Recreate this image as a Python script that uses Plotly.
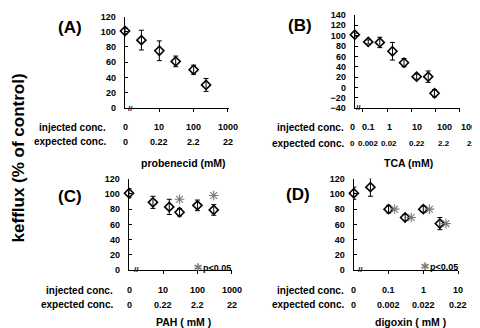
import math
import plotly.graph_objects as go

W, H = 480, 328

# ---------------- data ----------------
# control (0) is plotted at the "0" slot of each log axis
a_conc = [1, 3, 10, 30, 100, 230]
a_eff = [101, 89, 75, 61, 50, 30]
a_err = [4, 13, 13, 7, 6, 8.5]
a_tick_pos = [1, 10, 100, 1000]
a_inj = ["0", "10", "100", "1000"]
a_exp = ["0", "0.22", "2.2", "22"]

b_conc = [0.028, 0.1, 0.3, 1, 3, 10, 30, 55]
b_eff = [102, 88, 87, 70, 48, 21, 21, -11]
b_err = [3, 4, 10, 17, 8, 5, 11, 7]
b_inj = ["0", "0.1", "1", "10", "100", "1000"]
b_exp = ["0", "0.002", "0.02", "0.22", "2.2", "22"]
b_ticks = [0.06, 0.6, 6, 60, 600]

c_conc = [1, 5, 15, 30, 100, 300]
c_eff = [101, 89, 83, 76, 85, 79]
c_err = [6, 8, 10, 5, 7, 7]
c_sig = [False, False, False, True, False, True]
c_tick_pos = [1, 10, 100, 1000]
c_inj = ["0", "10", "100", "1000"]
c_exp = ["0", "0.22", "2.2", "22"]

d_conc = [0.01, 0.03, 0.1, 0.3, 1, 3]
d_eff = [101, 109, 80, 69, 80, 61]
d_err = [8, 12, 5, 4, 4, 8]
d_sig = [False, False, True, True, True, True]
d_tick_pos = [0.01, 0.1, 1, 10]
d_inj = ["0", "0.1", "1", "10"]
d_exp = ["0", "0.002", "0.022", "0.22"]

FONT = "Arial, Liberation Sans, sans-serif"
GRAY = "#7a7a7a"


def px(x):
    return x / W


def py(y):
    return 1 - y / H


fig = go.Figure()

panels = {
    # key: conc, eff, err, xdom(px), ydom(px), xrange(log), yrange, ticks
    "": (a_conc, a_eff, a_err, (116.7, 221), (3.7, 97.7), [-0.01, 3.03], [0, 120], [10, 100, 1000]),
    "2": (b_conc, b_eff, b_err, (346.7, 451.7), (2, 98.3), [-1.56, 2.778], [-40, 140], b_ticks),
    "3": (c_conc, c_eff, c_err, (120.7, 223.6), (171, 265), [-0.01, 3.0], [0, 120], [10, 100, 1000]),
    "4": (d_conc, d_eff, d_err, (345.5, 450), (171, 265), [-2.01, 1.0], [0, 120], [0.1, 1, 10]),
}

for key, (conc, eff, err, xd, yd, xr, yr, xt) in panels.items():
    xa = "x" + key
    ya = "y" + key
    fig.add_trace(go.Scatter(
        x=conc, y=eff, xaxis=xa, yaxis=ya, mode="markers", cliponaxis=False,
        marker=dict(symbol="diamond-open", size=7, color="black",
                    line=dict(width=1.6, color="black")),
        error_y=dict(type="data", array=err, color="black", thickness=1, width=2.5),
    ))
    fig.layout["xaxis" + key] = dict(
        type="log", domain=[px(xd[0]), px(xd[1])], range=xr, autorange=False, anchor=ya,
        showline=True, linecolor="black", linewidth=1, showgrid=False, zeroline=False,
        ticks="outside", ticklen=3, tickcolor="black", tickvals=xt, showticklabels=False,
    )
    fig.layout["yaxis" + key] = dict(
        domain=[py(yd[1]), py(yd[0])], range=yr, autorange=False, anchor=xa, dtick=20,
        showline=True, linecolor="black", linewidth=1, showgrid=False, zeroline=False,
        ticks="inside", ticklen=3, tickcolor="black", ticklabelstandoff=6,
        tickfont=dict(family=FONT, size=9, color="black", weight="bold"),
    )

# significance asterisks
c_sx = [c for c, s in zip(c_conc, c_sig) if s]
c_sy = [e + r + 12 for e, r, s in zip(c_eff, c_err, c_sig) if s]
fig.add_trace(go.Scatter(x=c_sx, y=c_sy, xaxis="x3", yaxis="y3", mode="markers", cliponaxis=False,
                         marker=dict(symbol="asterisk-open", size=8, color=GRAY,
                                     line=dict(width=1.1, color=GRAY))))
d_sx = [c * 1.5 for c, s in zip(d_conc, d_sig) if s]
d_sy = [e for e, s in zip(d_eff, d_sig) if s]
fig.add_trace(go.Scatter(x=d_sx, y=d_sy, xaxis="x4", yaxis="y4", mode="markers", cliponaxis=False,
                         marker=dict(symbol="asterisk-open", size=8, color=GRAY,
                                     line=dict(width=1.1, color=GRAY))))

ann = []


def text(x, y, t, size=10, bold=True, xanchor="center", **kw):
    ann.append(dict(x=x, y=y, text=t, showarrow=False, xanchor=xanchor, yanchor="middle",
                    font=dict(family=FONT, size=size, color="black",
                              weight="bold" if bold else "normal"), **kw))


def dom_frac(key, value):
    r0, r1 = panels[key][5]
    return (math.log10(value) - r0) / (r1 - r0)


# panel letters
text(px(62), py(15), "(A)", 17, xref="paper", yref="paper")
text(px(292), py(13), "(B)", 17, xref="paper", yref="paper")
text(px(62), py(189), "(C)", 17, xref="paper", yref="paper")
text(px(290), py(187), "(D)", 17, xref="paper", yref="paper")

# tick label rows (aligned under the tick slots)
rows = [
    ("", a_tick_pos, a_inj, a_exp, 100, 118, 133, "probenecid (mM)", 175, 155),
    ("3", c_tick_pos, c_inj, c_exp, 107, 286, 301, "PAH ( mM )", 175, 319),
    ("4", d_tick_pos, d_inj, d_exp, 338, 286, 301, "digoxin ( mM )", 402, 319),
]
for key, pos, inj, exp, lx, y1, y2, title, tx, ty in rows:
    text(px(lx), py(y1), "injected conc.", xanchor="right", xref="paper", yref="paper")
    text(px(lx), py(y2), "expected conc.", xanchor="right", xref="paper", yref="paper")
    xref = ("x" + key if key else "x") + " domain"
    for p, s1, s2 in zip(pos, inj, exp):
        text(dom_frac(key, p), py(y1), s1, 9, xref=xref, yref="paper")
        text(dom_frac(key, p), py(y2), s2, 9, xref=xref, yref="paper")
    text(px(tx), py(ty), title, 10.5, xref="paper", yref="paper")

# panel B: its label rows are typeset as evenly spread text
b_label_x = [344, 360, 381, 409, 436, 463]
text(px(338), py(118), "injected conc.", xanchor="right", xref="paper", yref="paper")
text(px(338), py(135), "expected conc.", xanchor="right", xref="paper", yref="paper")
for lx, s1, s2 in zip(b_label_x, b_inj, b_exp):
    text(px(lx), py(118), s1, 9, xref="paper", yref="paper")
    text(px(lx), py(135), s2, 8, xref="paper", yref="paper")
text(px(400), py(155), "TCA (mM)", 10.5, xref="paper", yref="paper")

# axis break marks
for bx, by in [(123, 98), (350, 97), (128, 265), (352, 265)]:
    text(px(bx), py(by), "//", 8, xref="paper", yref="paper")

# p<0.05 keys
for kx, ky in [(183, 262), (410, 261)]:
    text(px(kx), py(ky), '<span style="color:%s;font-size:12px">∗</span>p&lt;0.05' % GRAY, 9,
         xanchor="left", xref="paper", yref="paper")

# overall y title
text(px(10), py(150), "kefflux (% of control)", 17, xref="paper", yref="paper", textangle=-90)

fig.update_layout(
    width=W, height=H, margin=dict(l=0, r=0, t=0, b=0),
    paper_bgcolor="white", plot_bgcolor="white", showlegend=False,
    annotations=ann, font=dict(family=FONT),
)

fig.write_html("out.html")
